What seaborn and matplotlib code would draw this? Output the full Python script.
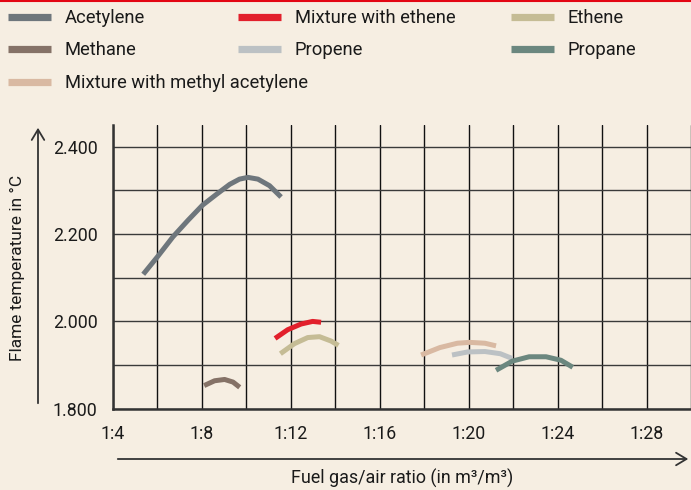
import numpy as np
import pandas as pd
import seaborn as sns
import matplotlib
matplotlib.use("Agg")
import matplotlib.pyplot as plt
from matplotlib.lines import Line2D
from matplotlib.patches import FancyArrowPatch

# ---- data ----
acetylene_x = [5.36, 6.03, 6.70, 7.38, 8.02, 8.65, 9.25, 9.69, 10.07, 10.52, 11.04, 11.56]
acetylene_y = [2108, 2150, 2194, 2232, 2266, 2291, 2314, 2326, 2330, 2326, 2311, 2285]
methane_x = [8.10, 8.57, 9.02, 9.40, 9.70]
methane_y = [1853, 1864, 1867, 1861, 1849]
mix_ethene_x = [11.29, 11.86, 12.46, 12.98, 13.36]
mix_ethene_y = [1961, 1981, 1994, 2000, 1998]
ethene_x = [11.53, 12.16, 12.76, 13.29, 13.81, 14.14]
ethene_y = [1926, 1949, 1963, 1965, 1955, 1945]
mix_methyl_x = [17.86, 18.7, 19.49, 20.03, 20.73, 21.23]
mix_methyl_y = [1923, 1940, 1950, 1952, 1950, 1944]
propene_x = [19.25, 19.95, 20.73, 21.42, 21.96]
propene_y = [1923, 1930, 1931, 1926, 1915]
propane_x = [21.23, 21.96, 22.72, 23.48, 24.15, 24.68]
propane_y = [1888, 1909, 1919, 1919, 1911, 1895]

series_names = ["Acetylene", "Mixture with ethene", "Ethene", "Methane",
                "Propene", "Propane", "Mixture with methyl acetylene"]
series_x = [acetylene_x, mix_ethene_x, ethene_x, methane_x, propene_x, propane_x, mix_methyl_x]
series_y = [acetylene_y, mix_ethene_y, ethene_y, methane_y, propene_y, propane_y, mix_methyl_y]
colors = {
    "Acetylene": "#6e767c",
    "Mixture with ethene": "#e2202c",
    "Ethene": "#c5bc95",
    "Methane": "#857267",
    "Propene": "#bcc1c4",
    "Propane": "#6b877f",
    "Mixture with methyl acetylene": "#d9b9a2",
}

x_ticks = [4, 8, 12, 16, 20, 24, 28]
x_ticklabels = ["1:4", "1:8", "1:12", "1:16", "1:20", "1:24", "1:28"]
y_ticks = [1800, 2000, 2200, 2400]
y_ticklabels = ["1.800", "2.000", "2.200", "2.400"]

rows = []
for n, xs, ys in zip(series_names, series_x, series_y):
    for i, (a, b) in enumerate(zip(xs, ys)):
        rows.append({"series": n, "ratio": a, "temp": b, "order": i})
df = pd.DataFrame(rows)

# ---- style ----
bg = "#f6eee2"
sns.set_theme(style="white")
plt.rcParams["font.family"] = ["Roboto", "DejaVu Sans"]
FS_LEG = 13.2
FS_TICK = 12.8
text_color = "#1a1a1a"

fig = plt.figure(figsize=(6.91, 4.90), dpi=100, facecolor=bg)
ax = fig.add_axes([113 / 691, (490 - 408.7) / 490, 578 / 691, 283.7 / 490])
ax.set_facecolor(bg)

for n in series_names:
    sub = df[df.series == n]
    sns.lineplot(data=sub, x="ratio", y="temp", color=colors[n], lw=3.6,
                 sort=False, estimator=None, ax=ax, legend=False,
                 solid_capstyle="butt", solid_joinstyle="round", zorder=5)

ax.set_xlim(4, 30)
ax.set_ylim(1800, 2450)
ax.set_xticks(x_ticks)
ax.set_xticklabels(x_ticklabels, fontsize=FS_TICK, color=text_color)
ax.set_xticks([6, 10, 14, 18, 22, 26, 30], minor=True)
ax.set_yticks(y_ticks)
ax.set_yticklabels(y_ticklabels, fontsize=FS_TICK, color=text_color)
ax.set_yticks([1900, 2100, 2300], minor=True)
ax.tick_params(axis="both", which="both", length=0)
ax.tick_params(axis="x", pad=11.5)
ax.tick_params(axis="y", pad=11)
ax.xaxis.grid(True, which="both", color="#111111", lw=1.0, zorder=1)
ax.yaxis.grid(True, which="both", color="#3a3a3a", lw=1.0, zorder=1)
ax.set_axisbelow(True)
for s in ["top", "right"]:
    ax.spines[s].set_visible(False)
for s in ["left", "bottom"]:
    ax.spines[s].set_color("#333333")
    ax.spines[s].set_linewidth(1.8)

ax.set_xlabel("Fuel gas/air ratio (in m³/m³)", fontsize=12.9, color=text_color)
ax.xaxis.set_label_coords(0.5, -0.245)
ax.xaxis.label.set_va("center")
ax.set_ylabel("Flame temperature in °C", fontsize=12.5, color=text_color)
ax.yaxis.set_label_coords(-0.166, 0.496)
ax.yaxis.label.set_va("center")

# arrows
def fx(px):
    return px / 691
def fy(py):
    return 1 - py / 490

fig.add_artist(FancyArrowPatch((fx(38), fy(406)), (fx(38), fy(125)),
                               transform=fig.transFigure, arrowstyle="->,head_length=5,head_width=3",
                               color="#333333", lw=1.3, mutation_scale=1.5))
fig.add_artist(FancyArrowPatch((fx(115), fy(459)), (fx(691), fy(459)),
                               transform=fig.transFigure, arrowstyle="->,head_length=5,head_width=3",
                               color="#333333", lw=1.3, mutation_scale=1.5))
# top red rule
fig.add_artist(Line2D([0, 1], [fy(1.0), fy(1.0)], transform=fig.transFigure,
                      color="#e30613", lw=1.5))

# legends: three columns
def handle(n):
    return Line2D([0], [0], color=colors[n], lw=5.2, solid_capstyle="butt")

cols = [
    (["Acetylene", "Methane", "Mixture with methyl acetylene"], 8),
    (["Mixture with ethene", "Propene"], 238),
    (["Ethene", "Propane"], 511),
]
for names, px in cols:
    leg = fig.legend([handle(n) for n in names], names, loc="upper left",
                     bbox_to_anchor=(fx(px), fy(9)), frameon=False, fontsize=FS_LEG,
                     handlelength=2.35, handletextpad=0.74, labelspacing=0.79,
                     borderpad=0, borderaxespad=0)
    for t in leg.get_texts():
        t.set_color(text_color)

fig.savefig("out.png", dpi=100, facecolor=bg)
